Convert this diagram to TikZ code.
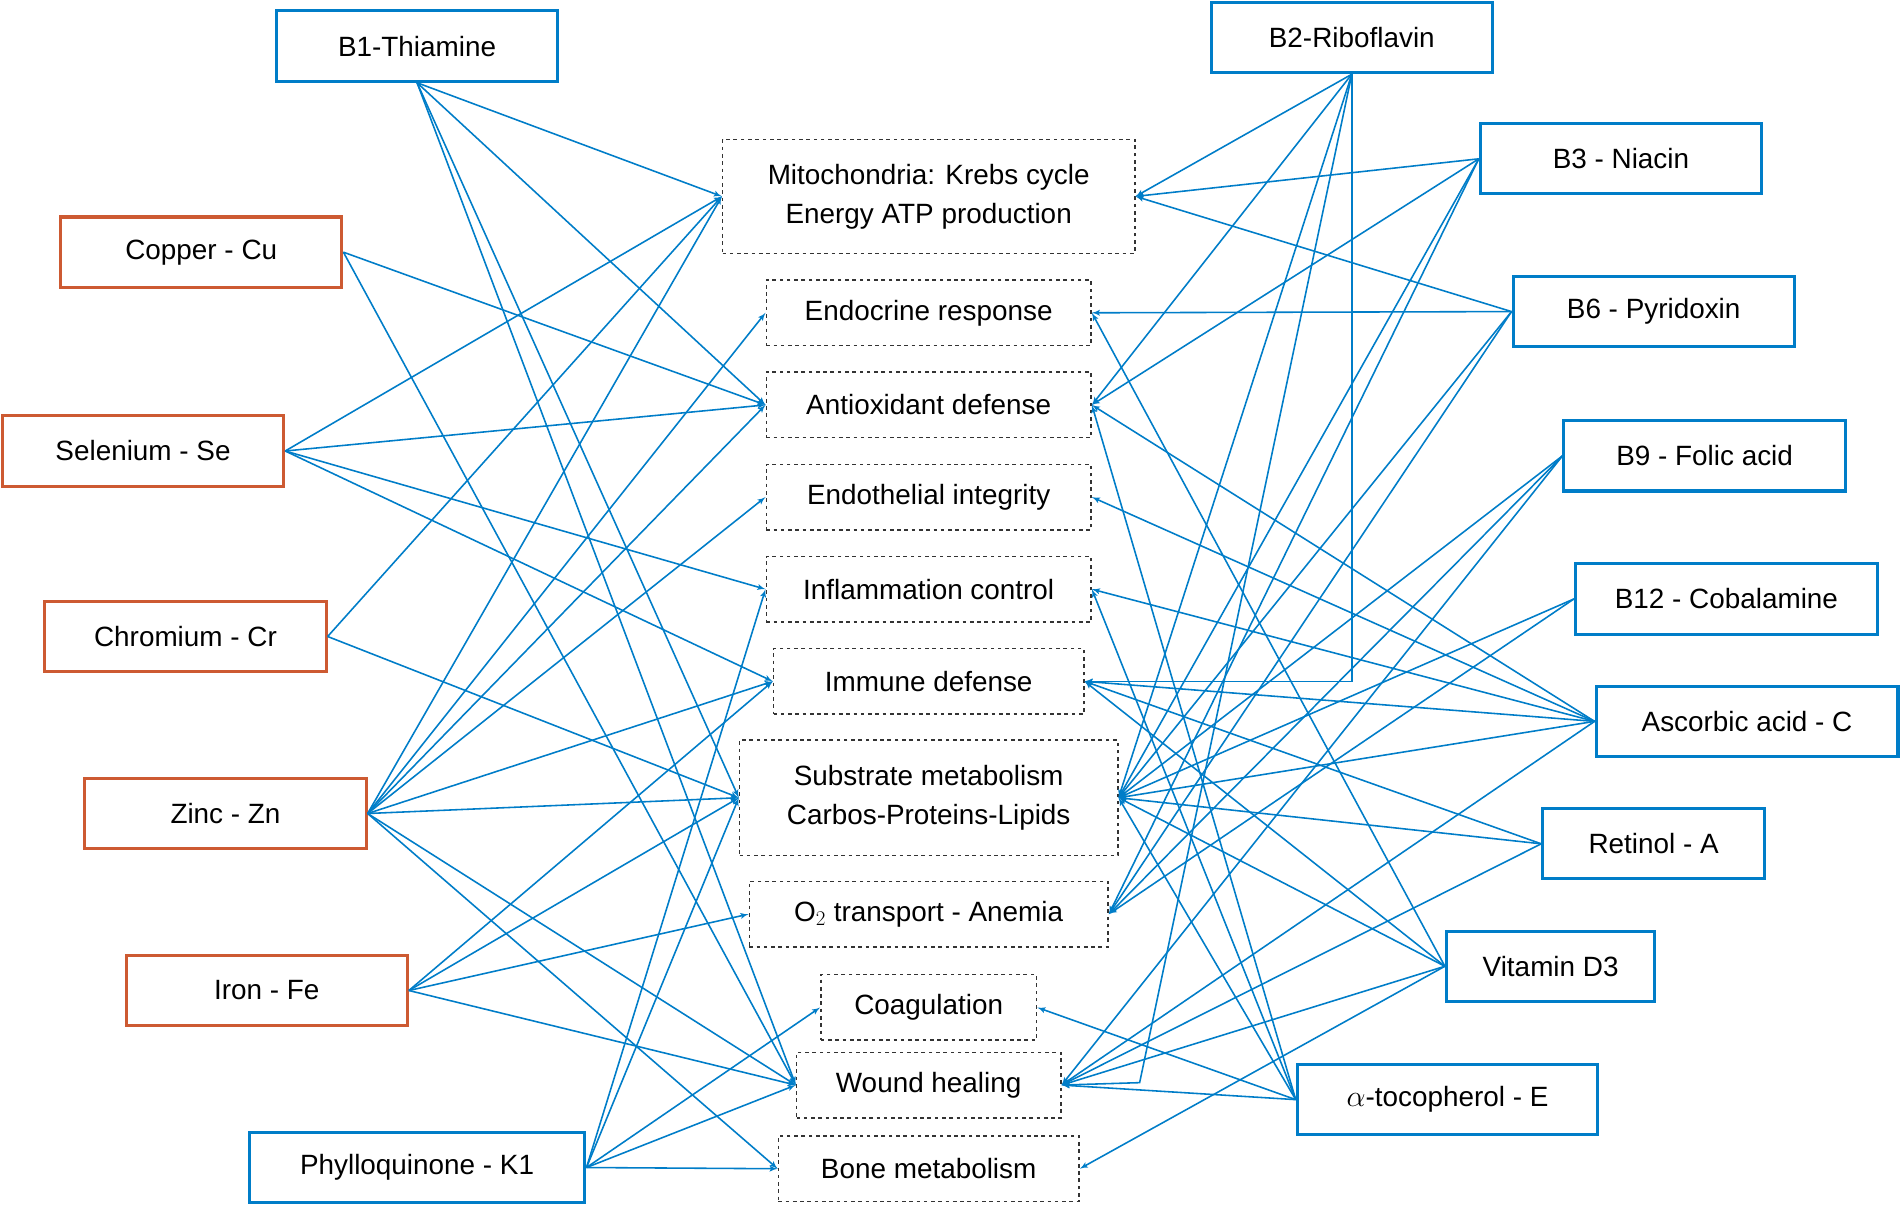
\documentclass[tikz,border=0pt]{standalone}
\usepackage{fontspec}
\setmainfont{Liberation Sans}
\usetikzlibrary{arrows}
\definecolor{vitblue}{RGB}{0,125,200}
\definecolor{minred}{RGB}{205,90,50}
\tikzstyle{vit} = [rectangle, draw=vitblue, line width=2.5pt, minimum width=232pt,
    minimum height=58pt, font=\fontsize{23}{28}\selectfont]
\tikzstyle{mineral} = [vit, draw=minred]
\tikzstyle{role} = [rectangle, draw=black!80, dashed, line width=1.2pt,
    minimum height=54pt, align=center, font=\fontsize{23}{32}\selectfont]
\tikzstyle{line} = [draw=vitblue, line width=1.3pt, -latex']

\begin{document}
\begin{tikzpicture}[x=1pt, y=1pt]
    \useasboundingbox (0,0) rectangle (1568,-995);
    % Place nodes
    \node [role, minimum width=340pt, minimum height=94pt] (mito) at (766,-162) {Mitochondria: Krebs cycle\\Energy ATP production};
    \node [role, minimum width=268pt] (endo) at (766,-258) {Endocrine response};
    \node [role, minimum width=268pt] (antiox) at (766,-334) {Antioxidant defense};
    \node [role, minimum width=268pt] (endoth) at (766,-410) {Endothelial integrity};
    \node [role, minimum width=268pt] (inflam) at (766,-486) {Inflammation control};
    \node [role, minimum width=256pt] (immune) at (766,-562) {Immune defense};
    \node [role, minimum width=312pt, minimum height=95pt] (subst) at (766,-658) {Substrate metabolism\\Carbos-Proteins-Lipids};
    \node [role, minimum width=296pt] (otwo) at (766,-754) {O$_2$ transport - Anemia};
    \node [role, minimum width=178pt] (coag) at (766,-831) {Coagulation};
    \node [role, minimum width=218pt] (wound) at (766,-895) {Wound healing};
    \node [role, minimum width=248pt] (bone) at (766,-964) {Bone metabolism};

    \node [vit] (b1) at (344,-38) {B1-Thiamine};
    \node [mineral] (cu) at (166,-208) {Copper - Cu};
    \node [mineral] (se) at (118,-372) {Selenium - Se};
    \node [mineral] (cr) at (153,-525) {Chromium - Cr};
    \node [mineral] (zn) at (186,-671) {Zinc - Zn};
    \node [mineral] (fe) at (220,-817) {Iron - Fe};
    \node [vit, minimum width=277pt] (kone) at (344,-963) {Phylloquinone - K1};

    \node [vit] (b2) at (1115,-31) {B2-Riboflavin};
    \node [vit] (b3) at (1337,-131) {B3 - Niacin};
    \node [vit] (b6) at (1364,-257) {B6 - Pyridoxin};
    \node [vit] (b9) at (1406,-376) {B9 - Folic acid};
    \node [vit, minimum width=249pt] (b12) at (1424,-494) {B12 - Cobalamine};
    \node [vit, minimum width=249pt] (vitc) at (1441,-595) {Ascorbic acid - C};
    \node [vit, minimum width=183pt] (vita) at (1364,-696) {Retinol - A};
    \node [vit, minimum width=172pt] (vitd) at (1279,-797) {Vitamin D3};
    \node [vit, minimum width=248pt] (vite) at (1194,-907) {$\alpha$-tocopherol - E};
    \coordinate (b2bend) at (1115,-562);
    \coordinate (b2low) at (940,-893);

    % Draw edges
    \foreach \t in {mito,antiox,subst,wound} \path [line] (b1.south) -- (\t.west);
    \foreach \t in {antiox,wound} \path [line] (cu.east) -- (\t.west);
    \foreach \t in {mito,antiox,inflam,immune} \path [line] (se.east) -- (\t.west);
    \foreach \t in {mito,subst} \path [line] (cr.east) -- (\t.west);
    \foreach \t in {mito,endo,antiox,endoth,immune,subst,wound,bone} \path [line] (zn.east) -- (\t.west);
    \foreach \t in {immune,subst,otwo,wound} \path [line] (fe.east) -- (\t.west);
    \foreach \t in {inflam,subst,coag,wound,bone} \path [line] (kone.east) -- (\t.west);

    \foreach \t in {mito,antiox,subst} \path [line] (b2.south) -- (\t.east);
    \path [line] (b2.south) -- (b2bend) -- (immune.east);
    \path [line] (b2.south) -- (b2low) -- (wound.east);
    \foreach \t in {mito,antiox,subst,otwo} \path [line] (b3.west) -- (\t.east);
    \foreach \t in {mito,endo,subst,otwo} \path [line] (b6.west) -- (\t.east);
    \foreach \t in {subst,otwo,wound} \path [line] (b9.west) -- (\t.east);
    \foreach \t in {subst,otwo} \path [line] (b12.west) -- (\t.east);
    \foreach \t in {antiox,endoth,inflam,immune,subst,wound} \path [line] (vitc.west) -- (\t.east);
    \foreach \t in {immune,subst,wound} \path [line] (vita.west) -- (\t.east);
    \foreach \t in {endo,immune,subst,wound,bone} \path [line] (vitd.west) -- (\t.east);
    \foreach \t in {antiox,inflam,subst,coag,wound} \path [line] (vite.west) -- (\t.east);
\end{tikzpicture}
\end{document}
